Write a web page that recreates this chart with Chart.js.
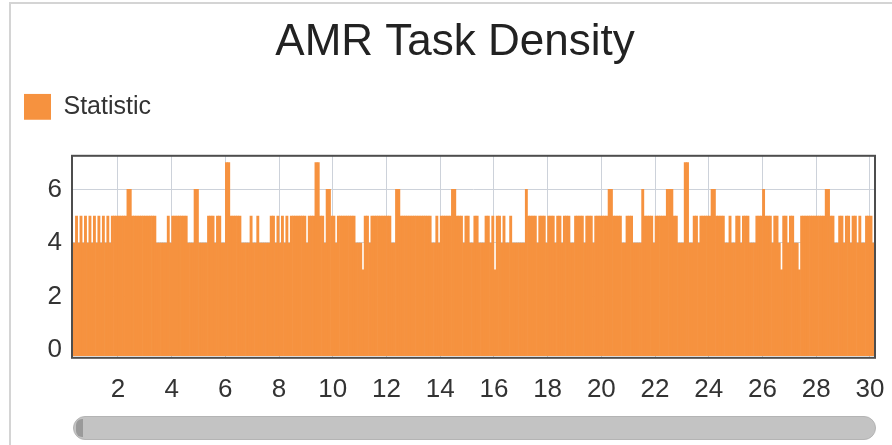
<!DOCTYPE html>
<html>
<head>
<meta charset="utf-8">
<title>AMR Task Density</title>
<script src="https://cdn.jsdelivr.net/npm/chart.js@4.4.1/dist/chart.umd.min.js"></script>
<style>
  html, body { margin: 0; padding: 0; background: #fff; overflow: hidden; }
  #wrap { position: relative; width: 892px; height: 445px; overflow: hidden; }
  #frame { position: absolute; left: 9px; top: 2px; width: 900px; height: 460px; border: 2px solid #d4d4d4; box-sizing: border-box; }
  #chart { position: absolute; left: 0; top: 0; }
  #scroll { position: absolute; left: 73px; top: 416px; width: 803px; height: 24px; border-radius: 12px;
            background: #c3c3c3; border: 1px solid #b4b4b4; box-sizing: border-box; }
  #scroll .cap { position: absolute; left: 2px; top: 2px; width: 7px; height: 18px; border-radius: 6px 0 0 6px; background: #9a9a9a; }
</style>
</head>
<body>
<div id="wrap">
  <div id="frame"></div>
  <canvas id="chart" width="892" height="445"></canvas>
  <div id="scroll"><div class="cap"></div></div>
</div>
<script>
// Axis ticks
const xTicks = [2, 4, 6, 8, 10, 12, 14, 16, 18, 20, 22, 24, 26, 28, 30];
const yTicks = [0, 2, 4, 6];

// Tasks per 2-hour slot, first slot starts at day 0.25 (slot index 3)
const firstSlot = 3;
const slotsPerDay = 12;
const tasks = [
  4, 4, 5, 4, 5, 4, 5, 4, 5, 4, 5, 4,   // 0.25 - 1.25
  5, 4, 5, 4, 5, 4, 5, 5, 5, 5, 5, 5,   // 1.25 - 2.25
  5, 6, 6, 5, 5, 5, 5, 5, 5, 5, 5, 5,
  5, 5, 4, 4, 4, 4, 4, 5, 4, 5, 5, 5,
  5, 5, 5, 5, 4, 4, 4, 6, 6, 4, 4, 4,
  4, 5, 5, 5, 4, 5, 5, 4, 4, 7, 7, 5,   // 5.25 - 6.25
  5, 5, 5, 5, 4, 4, 4, 4, 5, 4, 4, 5,
  4, 4, 4, 4, 4, 5, 5, 4, 5, 4, 5, 4,
  5, 4, 5, 5, 5, 5, 5, 5, 5, 4, 5, 5,
  5, 7, 7, 5, 5, 4, 6, 6, 5, 5, 4, 5,
  5, 5, 5, 5, 5, 5, 5, 4, 4, 4, 3, 5,   // 10.25 - 11.25
  5, 4, 5, 5, 5, 5, 5, 5, 5, 5, 5, 4,
  4, 6, 6, 5, 5, 5, 5, 5, 5, 5, 5, 5,
  5, 5, 5, 5, 5, 4, 4, 5, 4, 5, 5, 5,
  5, 5, 6, 6, 5, 5, 5, 4, 5, 5, 4, 4,
  5, 5, 4, 4, 4, 5, 5, 4, 5, 3, 5, 5,   // 15.25 - 16.25
  4, 5, 4, 4, 5, 4, 4, 4, 4, 4, 4, 6,
  5, 5, 5, 5, 4, 5, 5, 5, 4, 5, 5, 5,
  4, 5, 5, 4, 5, 5, 5, 4, 4, 5, 5, 5,
  5, 4, 5, 5, 5, 4, 5, 5, 5, 5, 5, 5,
  6, 6, 5, 5, 5, 5, 4, 4, 5, 5, 5, 4,   // 20.25 - 21.25
  4, 4, 4, 6, 5, 5, 5, 5, 4, 5, 5, 5,
  5, 5, 6, 6, 6, 5, 5, 4, 4, 4, 7, 7,
  4, 4, 5, 5, 4, 5, 5, 5, 5, 5, 6, 6,
  5, 5, 5, 5, 4, 4, 5, 4, 4, 5, 5, 4,
  5, 5, 5, 4, 4, 4, 5, 5, 5, 6, 5, 5,   // 25.25 - 26.25
  5, 4, 5, 5, 4, 3, 5, 5, 4, 5, 5, 4,
  4, 3, 5, 5, 5, 5, 5, 5, 5, 5, 5, 5,
  5, 6, 6, 5, 5, 4, 4, 5, 5, 4, 5, 5,
  4, 5, 5, 4, 5, 4, 4, 5, 5, 5, 4, 4    // 29.25 - 30.25
];

// slot centre in days
const slotDays = tasks.map((v, i) => (firstSlot + i + 0.5) / slotsPerDay);

const FONT = "'Liberation Sans', Arial, sans-serif";

/******************* border round the plot area *******************/
const plotBorder = {
  id: "plotBorder",
  afterDatasetsDraw(chart) {
    const { ctx, chartArea: a } = chart;
    ctx.save();
    ctx.strokeStyle = "#4d4d4d";
    ctx.lineWidth = 2;
    ctx.strokeRect(a.left, a.top, a.right - a.left, a.bottom - a.top);
    ctx.restore();
  },
};

/******************* extra space under the legend *******************/
const legendGap = {
  id: "legendGap",
  beforeInit(chart) {
    const fit = chart.legend.fit;
    chart.legend.fit = function () {
      fit.bind(chart.legend)();
      this.height += 26;
    };
  },
};

new Chart(document.getElementById("chart"), {
  type: "bar",
  data: {
    datasets: [
      {
        label: "Statistic",
        data: slotDays.map((d, i) => ({ x: d, y: tasks[i] })),
        backgroundColor: "#f6923f",
        borderWidth: 0,
        barPercentage: 1,
        categoryPercentage: 1,
        base: -0.2,
      },
    ],
  },
  options: {
    responsive: false,
    animation: false,
    devicePixelRatio: 1,
    layout: { padding: { left: 24, right: 6, top: 0, bottom: 24 } },
    plugins: {
      title: {
        display: true,
        text: "AMR Task Density",
        color: "#222",
        font: { family: FONT, size: 44, weight: "normal" },
        padding: { top: 16, bottom: 25 },
      },
      legend: {
        display: true,
        align: "start",
        labels: {
          boxWidth: 27,
          boxHeight: 26,
          color: "#333",
          font: { family: FONT, size: 25 },
          padding: 0,
        },
      },
      tooltip: { enabled: false },
    },
    scales: {
      x: {
        type: "linear",
        offset: false,
        min: 0.29,
        max: 30.19,
        afterBuildTicks: (s) => {
          s.ticks = xTicks.map((v) => ({ value: v }));
        },
        afterFit: (s) => {
          s.paddingRight = 17;
        },
        grid: { color: "#cdd2da", drawTicks: false, offset: false },
        border: { display: false },
        ticks: {
          color: "#333",
          font: { family: FONT, size: 26 },
          padding: 16,
          maxRotation: 0,
          autoSkip: false,
        },
      },
      y: {
        min: -0.28,
        max: 7.25,
        afterBuildTicks: (s) => {
          s.ticks = yTicks.map((v) => ({ value: v }));
        },
        afterFit: (s) => {
          s.width = 48;
        },
        grid: { color: "#cdd2da", drawTicks: false },
        border: { display: false },
        ticks: {
          color: "#333",
          font: { family: FONT, size: 26 },
          padding: 10,
        },
      },
    },
  },
  plugins: [plotBorder, legendGap],
});
</script>
</body>
</html>
